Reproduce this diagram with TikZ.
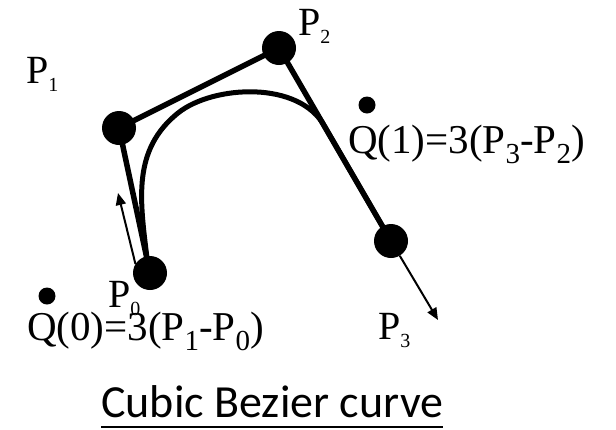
\documentclass[tikz,border=0pt]{standalone}
\usepackage{fontspec}
\setmainfont{Liberation Serif}
\newfontfamily\capfont{Carlito}
\usetikzlibrary{arrows.meta}
\newcommand\lsub[1]{\raisebox{-8pt}{\fontsize{20}{20}\selectfont #1}}
\newcommand\qsub[1]{\raisebox{-10pt}{\fontsize{29}{29}\selectfont #1}}
\begin{document}
\begin{tikzpicture}[x=1pt,y=-1pt,
  poly/.style={line width=5.5pt},
  curvestyle/.style={line width=5pt},
  bigdot/.style={circle,fill=black,inner sep=0pt,minimum size=34pt},
  smalldot/.style={circle,fill=black,inner sep=0pt,minimum size=17pt},
  lbl/.style={inner sep=0pt,anchor=base west,font=\fontsize{40}{40}\selectfont},
  eqlbl/.style={inner sep=0pt,anchor=base west,font=\fontsize{41}{41}\selectfont},
  tanarrow/.style={line width=2pt,-{Triangle[length=12pt,width=10pt]}}
]
\useasboundingbox (0,0) rectangle (616,429);
\coordinate (c0) at (150,273);
\coordinate (c1) at (119,128);
\coordinate (c2) at (279,48);
\coordinate (c3) at (391,241);
\draw[poly] (c0) -- (c1) -- (c2) -- (c3);
\draw[curvestyle] (147,258) .. controls (140,200) and (132,150) .. (178,113)
  .. controls (213,85) and (300,80) .. (325,127) -- (c3);
\node[bigdot] (p0) at (c0) {};
\node[bigdot] (p1) at (c1) {};
\node[bigdot] (p2) at (c2) {};
\node[bigdot] (p3) at (c3) {};
\coordinate (t0) at (118,193);
\coordinate (t3) at (438,320);
\draw[tanarrow] (p0.148) -- (t0);
\draw[tanarrow] (p3) -- (t3);
\node[lbl] (lp1) at (26,83) {P\lsub{1}};
\node[lbl] (lp2) at (298,35) {P\lsub{2}};
\node[lbl] (lp0) at (108,307) {P\lsub{0}};
\node[lbl] (lp3) at (378,339) {P\lsub{3}};
\node[eqlbl] (q0) at (27,340) {Q(0)=3(P\qsub{1}-P\qsub{0})};
\node[eqlbl] (q1) at (348,153) {Q(1)=3(P\qsub{3}-P\qsub{2})};
\node[smalldot] (d0) at (47,296) {};
\node[smalldot] (d1) at (367,105) {};
\node[inner sep=0pt,anchor=base west,font=\capfont\fontsize{46}{46}\selectfont] (cap) at (101,417) {Cubic Bezier curve};
\draw[line width=2.5pt] ([yshift=-10pt]cap.base west) -- ([yshift=-10pt]cap.base east);
\end{tikzpicture}
\end{document}
